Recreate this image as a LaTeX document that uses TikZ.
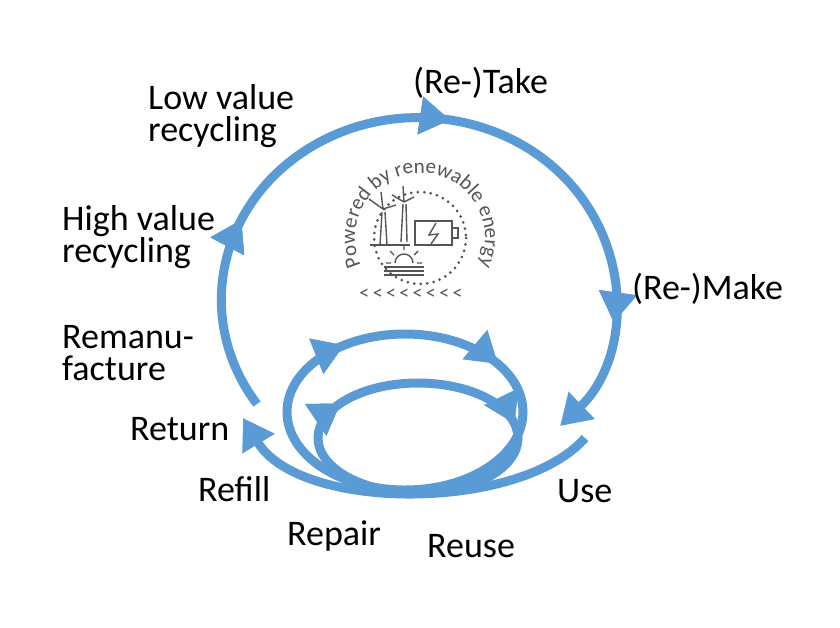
\documentclass[tikz,border=0pt]{standalone}
\usepackage{fontspec}
\setmainfont{Carlito}
\usetikzlibrary{arrows.meta,decorations.markings,decorations.text,calc}
\definecolor{cb}{HTML}{5B9BD5}
\definecolor{ic}{HTML}{555555}
\begin{document}
\begin{tikzpicture}[x=1pt,y=-1pt,
  loop/.style={draw=cb,line width=9pt},
  tip/.style={decoration={markings,mark=at position #1 with {\arrow[cb]{Triangle[width=36pt,length=30pt]}}},postaction=decorate},
  endtip/.style={-{Triangle[width=36pt,length=30pt]}},
  lbl/.style={font=\fontsize{36}{32}\selectfont,anchor=west,inner sep=0pt,align=left},
  icn/.style={draw=ic,line width=1.4pt}]
\useasboundingbox (0,0) rectangle (840,627);
% big loop
\path[loop,endtip,tip=0.23,tip=0.52,tip=0.86] (257,404) arc[start angle=145,end angle=404,x radius=197,y radius=182];
% bottom return arc
\path[loop,endtip] (585,438) .. controls (520,512) and (300,512) .. (243,418);
% inner loop A
\path[loop,tip=0.40,tip=0.66] (405,490) arc[start angle=90,end angle=450,x radius=118,y radius=78];
% inner loop B
\path[loop,tip=0.337,tip=0.72] (418,493) arc[start angle=90,end angle=450,x radius=100,y radius=55];
% labels
\node[lbl] (take) at (413,83) {(Re-)Take};
\node[lbl] (low) at (148,116) {Low value\\recycling};
\node[lbl] (high) at (62,237) {High value\\recycling};
\node[lbl] (make) at (632,289) {(Re-)Make};
\node[lbl] (reman) at (62,353) {Remanu-\\facture};
\node[lbl] (ret) at (130,429) {Return};
\node[lbl] (refill) at (198,489) {Refill};
\node[lbl] (repair) at (287,536) {Repair};
\node[lbl] (reuse) at (427,546) {Reuse};
\node[lbl] (use) at (557,491) {Use};
% center icon
\coordinate (c) at (420,238);
\draw[ic,line width=3pt,line cap=round,dash pattern=on 0pt off 6.5pt] (c) circle[radius=46];
\path[decorate,decoration={text along path,text align=center,text={|\fontsize{21}{21}\selectfont\color{ic}|Powered by renewable energy}}]
  ($(c)+(120:65)$) arc[start angle=120,end angle=420,radius=65];
\node[ic,font=\fontsize{20}{20}\selectfont,inner sep=0pt] (chev) at (411,294) {\textless\,\textless\,\textless\,\textless\,\textless\,\textless\,\textless\,\textless};
% turbines
\draw[icn] (380,245) -- (382,212) (385,212) -- (387,245);
\draw[icn] (383,209) -- (369,199) (383,209) -- (396,205) (383,209) -- (381,192);
\draw[icn] (401,242) -- (403,204) (406,204) -- (407,242);
\draw[icn] (404,202) -- (392,195) (404,202) -- (414,197) (404,202) -- (403,186);
\draw[icn] (370,245) -- (410,245);
% battery
\draw[icn] (415,221) rectangle (452,245);
\draw[icn] (452,228) rectangle (458,238);
\draw[icn] (436,223) -- (429,235) -- (438,234) -- (431,244);
% sun and waves
\draw[icn] (395,263) arc[start angle=180,end angle=360,radius=9];
\draw[icn] (404,250) -- (404,245) (394,255) -- (390,251) (414,255) -- (418,251) (391,263) -- (386,263) (417,263) -- (422,263);
\draw[icn] (384,267) -- (424,267) (384,271) -- (424,271) (384,275) -- (424,275);
\end{tikzpicture}
\end{document}
